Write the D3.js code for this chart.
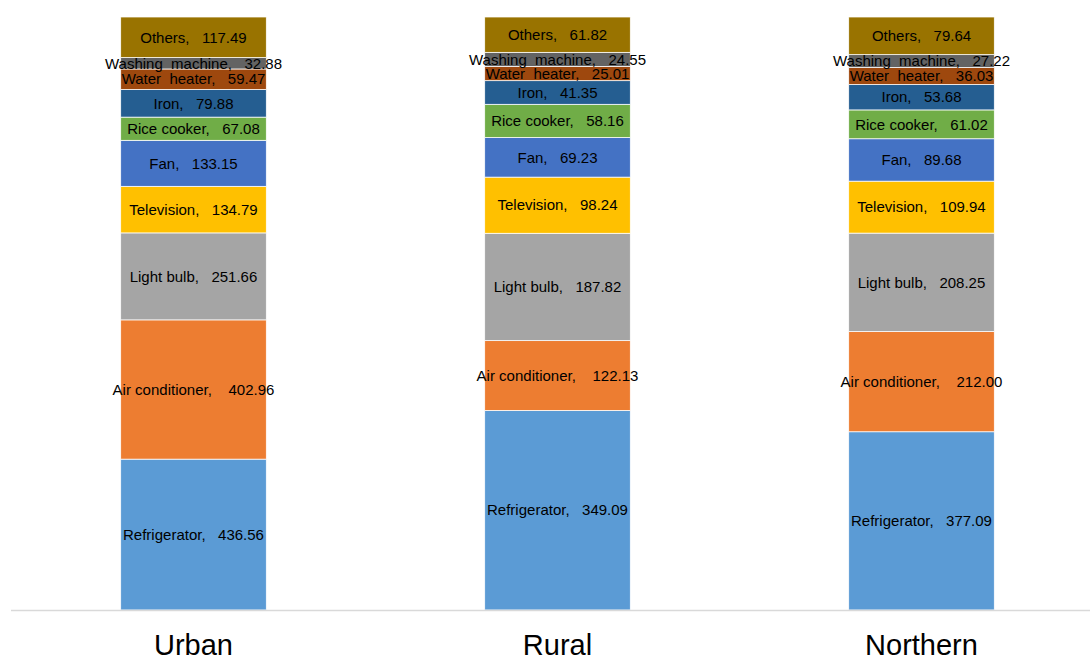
<!DOCTYPE html>
<html>
<head>
<meta charset="utf-8">
<script src="https://cdn.jsdelivr.net/npm/d3@7"></script>
<style>
  body { margin: 0; background: #fff; }
  svg text { font-family: "Liberation Sans", Arial, sans-serif; }
</style>
</head>
<body>
<div id="chart"></div>
<script>
const regions = ["Urban", "Rural", "Northern"];
const appliances = ["Refrigerator", "Air conditioner", "Light bulb", "Television", "Fan",
  "Rice cooker", "Iron", "Water heater", "Washing machine", "Others"];
const urbanValues = [436.56, 402.96, 251.66, 134.79, 133.15, 67.08, 79.88, 59.47, 32.88, 117.49];
const ruralValues = [349.09, 122.13, 187.82, 98.24, 69.23, 58.16, 41.35, 25.01, 24.55, 61.82];
const northernValues = [377.09, 212.00, 208.25, 109.94, 89.68, 61.02, 53.68, 36.03, 27.22, 79.64];
const colors = ["#5b9bd5", "#ed7d31", "#a5a5a5", "#ffc000", "#4472c4",
  "#70ad47", "#255e91", "#9e480e", "#636363", "#997300"];

const width = 1091, height = 657;
const margin = { top: 17, bottom: 47, left: 11.5 };

const svg = d3.select("#chart").append("svg")
  .attr("width", width)
  .attr("height", height);

// one row per region, keyed by appliance
const valuesByRegion = [urbanValues, ruralValues, northernValues];
const rows = regions.map(function (r, i) {
  const row = { region: r };
  appliances.forEach(function (a, j) { row[a] = valuesByRegion[i][j]; });
  return row;
});

const stack = d3.stack().keys(appliances).offset(d3.stackOffsetExpand);
const series = stack(rows);

const x = d3.scaleBand()
  .domain(regions)
  .range([margin.left, margin.left + 1092])
  .paddingInner(0.6)
  .paddingOuter(0.3);

const y = d3.scaleLinear()
  .domain([0, 1])
  .range([height - margin.bottom, margin.top]);

const color = d3.scaleOrdinal().domain(appliances).range(colors);

const layers = svg.selectAll(".layer")
  .data(series)
  .enter().append("g")
  .attr("class", "layer")
  .attr("fill", function (d) { return color(d.key); });

layers.selectAll("rect")
  .data(function (d) { return d; })
  .enter().append("rect")
  .attr("x", function (d) { return x(d.data.region); })
  .attr("y", function (d) { return y(d[1]); })
  .attr("width", x.bandwidth())
  .attr("height", function (d) { return y(d[0]) - y(d[1]); })
  .attr("stroke", "#fff")
  .attr("stroke-width", 0.75);

// axis line
svg.append("line")
  .attr("x1", 11).attr("x2", 1090)
  .attr("y1", y(0) + 0.5).attr("y2", y(0) + 0.5)
  .attr("stroke", "#d9d9d9")
  .attr("stroke-width", 1.5);

// label text: excel style, with wide gaps
function labelText(key, v) {
  let name = key;
  if (key === "Water heater" || key === "Washing machine") name = key.replace(" ", "  ");
  const gap = key === "Air conditioner" ? ",    " : ",   ";
  return name + gap + v.toFixed(2);
}

// segment labels
series.forEach(function (s) {
  s.forEach(function (d) {
    svg.append("text")
      .attr("x", x(d.data.region) + x.bandwidth() / 2)
      .attr("y", (y(d[0]) + y(d[1])) / 2)
      .attr("dy", "0.35em")
      .attr("text-anchor", "middle")
      .style("white-space", "pre")
      .style("font-size", "15px")
      .attr("fill", "#000")
      .text(labelText(s.key, d.data[s.key]));
  });
});

// category labels
svg.selectAll(".cat")
  .data(regions)
  .enter().append("text")
  .attr("class", "cat")
  .attr("x", function (d) { return x(d) + x.bandwidth() / 2; })
  .attr("y", 655)
  .attr("text-anchor", "middle")
  .style("font-size", "29px")
  .attr("fill", "#000")
  .text(function (d) { return d; });
</script>
</body>
</html>
